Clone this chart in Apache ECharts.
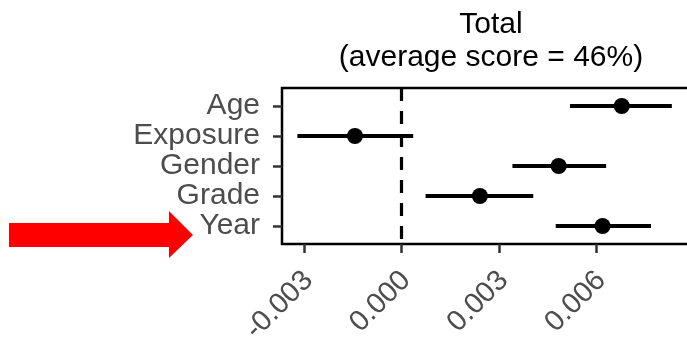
<!DOCTYPE html>
<html>
<head>
<meta charset="utf-8">
<script src="https://cdn.jsdelivr.net/npm/echarts@6/dist/echarts.min.js"></script>
<style>
html,body{margin:0;padding:0;background:#fff;}
#chart{width:687px;height:344px;}
</style>
</head>
<body>
<div id="chart"></div>
<script>
const categories = ['Age', 'Exposure', 'Gender', 'Grade', 'Year'];
const estimates = [0.00677, -0.00143, 0.00483, 0.00241, 0.00618];
const lowerCI = [0.00518, -0.00320, 0.00341, 0.00074, 0.00474];
const upperCI = [0.00831, 0.00036, 0.00629, 0.00405, 0.00767];
const xTicks = [-0.003, 0.000, 0.003, 0.006];
const titleLines = ['Total', '(average score = 46%)'];

const FONT = '"Liberation Sans", Arial, Helvetica, sans-serif';
const chart = echarts.init(document.getElementById('chart'), null, {renderer: 'canvas'});

const barData = categories.map((c, i) => [i, lowerCI[i], upperCI[i]]);
const pointData = categories.map((c, i) => [estimates[i], i]);

chart.setOption({
  animation: false,
  backgroundColor: '#ffffff',
  title: {
    text: titleLines.join('\n'),
    left: 486,
    top: 3,
    textAlign: 'center',
    textStyle: {fontFamily: FONT, fontSize: 30, fontWeight: 'normal', color: '#000', lineHeight: 33}
  },
  grid: {
    left: 282, top: 88, width: 410, height: 156,
    outerBoundsMode: 'none',
    containLabel: false,
    show: true, borderColor: '#000', borderWidth: 2.5, backgroundColor: 'transparent'
  },
  xAxis: {
    type: 'value',
    min: -0.003673,
    max: 0.008929,
    splitLine: {show: false},
    axisLine: {show: false, onZero: false},
    axisTick: {show: true, customValues: xTicks, length: 9, lineStyle: {color: '#333', width: 2.5}},
    axisLabel: {
      customValues: xTicks,
      rotate: 45,
      margin: 16,
      verticalAlign: 'top',
      padding: [0, 8, 0, 0],
      fontFamily: FONT, fontSize: 29, color: '#4d4d4d',
      formatter: v => v.toFixed(3)
    }
  },
  yAxis: {
    type: 'value',
    min: -0.6,
    max: 4.6,
    inverse: true,
    splitLine: {show: false},
    axisLine: {show: false, onZero: false},
    axisTick: {show: true, customValues: [0, 1, 2, 3, 4], length: 9, lineStyle: {color: '#333', width: 2.5}},
    axisLabel: {
      customValues: [0, 1, 2, 3, 4],
      margin: 22,
      fontFamily: FONT, fontSize: 30, color: '#4d4d4d',
      formatter: v => categories[Math.round(v)]
    }
  },
  series: [
    {
      type: 'custom',
      silent: true,
      data: barData,
      encode: {y: 0, x: [1, 2]},
      renderItem: function (params, api) {
        const y = api.value(0);
        const p1 = api.coord([api.value(1), y]);
        const p2 = api.coord([api.value(2), y]);
        return {
          type: 'line',
          shape: {x1: p1[0], y1: p1[1], x2: p2[0], y2: p2[1]},
          style: {stroke: '#000', lineWidth: 4}
        };
      },
      z: 3
    },
    {
      type: 'scatter',
      silent: true,
      data: pointData,
      symbol: 'circle',
      symbolSize: 16,
      itemStyle: {color: '#000', opacity: 1},
      z: 4,
      markLine: {
        silent: true,
        symbol: 'none',
        label: {show: false},
        lineStyle: {color: '#000', width: 3.2, type: [13, 10]},
        data: [{xAxis: 0}]
      }
    }
  ],
  graphic: [
    {
      type: 'polygon',
      shape: {points: [[9, 223], [169, 223], [169, 211], [193, 235], [169, 258], [169, 247], [9, 247]]},
      style: {fill: '#ff0000'},
      z: 10
    }
  ]
});
</script>
</body>
</html>
